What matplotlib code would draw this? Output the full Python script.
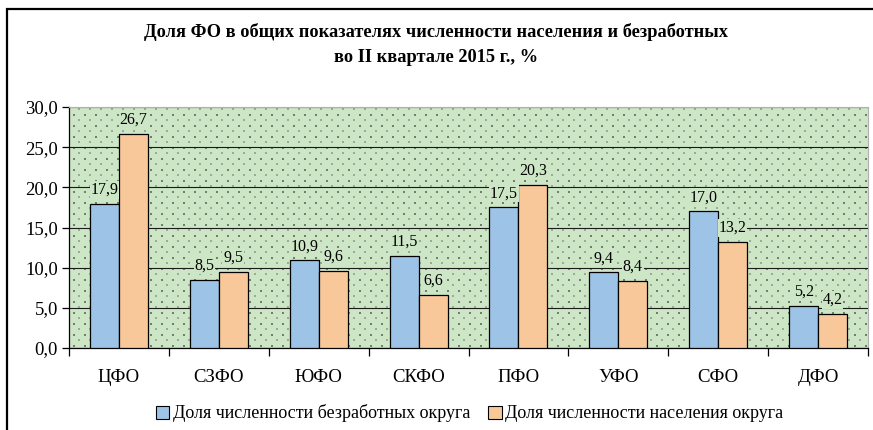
import numpy as np
import matplotlib.pyplot as plt
from matplotlib.patches import Rectangle, Patch

plt.rcParams['font.family'] = ['Liberation Serif', 'DejaVu Serif']

districts = ['ЦФО', 'СЗФО', 'ЮФО', 'СКФО', 'ПФО', 'УФО', 'СФО', 'ДФО']
unemployed = [17.9, 8.5, 10.9, 11.5, 17.5, 9.4, 17.0, 5.2]
population = [26.7, 9.5, 9.6, 6.6, 20.3, 8.4, 13.2, 4.2]
yticks = [0, 5, 10, 15, 20, 25, 30]

title = 'Доля ФО в общих показателях численности населения и безработных\nво II квартале 2015 г., %'
lab_unemp = 'Доля численности безработных округа'
lab_pop = 'Доля численности населения округа'

c_blue = '#9dc3e6'
c_orange = '#f8c89b'
c_bg = '#cde6c6'

fig = plt.figure(figsize=(8.73, 4.30), dpi=100)
ax = fig.add_axes([69/873, 1-348/430, 799/873, 241/430])
ax.set_facecolor(c_bg)

# dotted background pattern
xs = np.arange(0.006, 1, 11/799)
ys = np.arange(0.01, 1, 11/241)
gx, gy = np.meshgrid(xs, ys)
ax.scatter(gx.ravel(), gy.ravel(), s=1.2, c='#6f7f6f', marker='s', linewidths=0,
           transform=ax.transAxes, zorder=0.5)
gx2, gy2 = np.meshgrid(xs + 5.5/799, ys + 5.5/241)
ax.scatter(gx2.ravel(), gy2.ravel(), s=0.6, c='#9aab98', marker='s', linewidths=0,
           transform=ax.transAxes, zorder=0.5)

x = np.arange(len(districts))
w = 0.29
b1 = ax.bar(x - w/2, unemployed, w, color=c_blue, edgecolor='black', linewidth=0.9, zorder=3)
b2 = ax.bar(x + w/2, population, w, color=c_orange, edgecolor='black', linewidth=0.9, zorder=3)

for bars, vals in ((b1, unemployed), (b2, population)):
    for b, v in zip(bars, vals):
        ax.annotate(f'{v:.1f}'.replace('.', ','), (b.get_x() + b.get_width()/2, v),
                    xytext=(0, 4.5), textcoords='offset points', ha='center', va='bottom',
                    fontsize=11.5, zorder=4,
                    bbox=dict(boxstyle='square,pad=0.05', fc=c_bg, ec='none'))

ax.set_xlim(-0.5, len(districts) - 0.5)
ax.set_ylim(0, 30)
ax.set_yticks(yticks)
ax.set_yticklabels([f'{v:.1f}'.replace('.', ',') for v in yticks], fontsize=13.5)
ax.yaxis.grid(True, color='#1a1a1a', linewidth=0.8)
ax.set_axisbelow(True)

ax.set_xticks(x)
ax.set_xticklabels(districts, fontsize=13.5)
ax.tick_params(axis='x', length=0, pad=15)
ax.set_xticks(np.arange(-0.5, len(districts)), minor=True)
ax.tick_params(axis='x', which='minor', length=6, direction='out', width=0.9)
ax.tick_params(axis='y', length=5, direction='out', width=0.9, pad=3)

ax.spines['top'].set_color('#b0b0b0')
ax.spines['right'].set_color('#b0b0b0')
ax.spines['left'].set_linewidth(0.9)
ax.spines['bottom'].set_linewidth(0.9)

fig.text(0.5, 1-44.5/430, title, ha='center', va='center', fontsize=13.2,
         fontweight='bold', linespacing=1.6)

handles = [Patch(facecolor=c_blue, edgecolor='black', linewidth=0.8),
           Patch(facecolor=c_orange, edgecolor='black', linewidth=0.8)]
fig.legend(handles, [lab_unemp, lab_pop], loc='center', bbox_to_anchor=(0.538, 1-413.5/430),
           ncol=2, frameon=False, fontsize=13, handlelength=0.75, handleheight=0.75,
           handletextpad=0.2, columnspacing=1.0)

fig.patches.append(Rectangle((7/873, -0.05), 1.2, 1.05 - 9.5/430, transform=fig.transFigure,
                             fill=False, edgecolor='black', linewidth=1.6))

fig.savefig('out.png', dpi=100)
